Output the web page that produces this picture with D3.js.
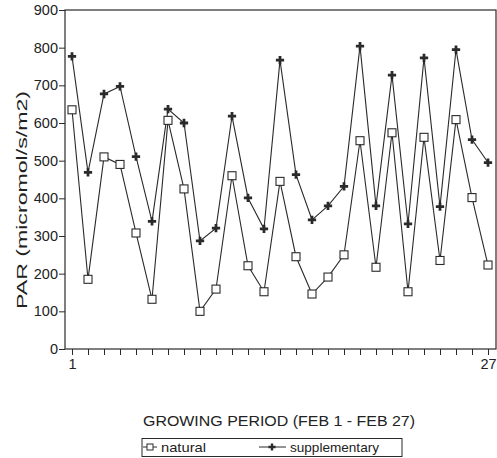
<!DOCTYPE html>
<html>
<head>
<meta charset="utf-8">
<script src="https://cdn.jsdelivr.net/npm/d3@7"></script>
<style>
  body { margin: 0; background: #fff; }
  text { font-family: "Liberation Sans", Arial, sans-serif; fill: #222; }
</style>
</head>
<body>
<div id="chart"></div>
<script>
var width = 497;
var height = 458;

// data
var days = d3.range(1, 28);
var natural = [635, 185, 510, 490, 308, 132, 607, 425, 100, 159, 460, 221, 152, 445,
  245, 146, 191, 250, 553, 217, 574, 152, 562, 235, 609, 402, 223];
var supplementary = [777, 469, 677, 697, 511, 339, 637, 600, 287, 321, 618, 401, 319, 767,
  463, 343, 380, 432, 804, 380, 727, 332, 773, 378, 795, 556, 495];
var yTicks = [0, 100, 200, 300, 400, 500, 600, 700, 800, 900];
var xLabels = [1, 27];

var plotLeft = 65, plotRight = 496, plotTop = 10, plotBottom = 349;

var svg = d3.select("#chart")
  .append("svg")
  .attr("width", width)
  .attr("height", height);

var x = d3.scaleLinear().domain([1, 27]).range([72, 488]);
var y = d3.scaleLinear().domain([0, 900]).range([plotBottom, plotTop]);

var ink = "#2a2a2a";

// frame
svg.append("rect")
  .attr("x", plotLeft).attr("y", plotTop)
  .attr("width", plotRight - plotLeft).attr("height", plotBottom - plotTop)
  .attr("fill", "none").attr("stroke", ink).attr("stroke-width", 1.2);

// y axis
var yAxis = svg.append("g")
  .attr("transform", "translate(" + plotLeft + ",0)")
  .call(d3.axisLeft(y).tickValues(yTicks).tickSize(6).tickPadding(1));
yAxis.select(".domain").remove();
yAxis.selectAll("line").attr("stroke", ink);
yAxis.selectAll("text").style("font-size", "14.5px").attr("fill", ink);

// x axis
var xAxis = svg.append("g")
  .attr("transform", "translate(0," + plotBottom + ")")
  .call(d3.axisBottom(x).tickValues(days).tickSize(6).tickFormat(function(d) {
    return xLabels.indexOf(d) >= 0 ? d : "";
  }).tickPadding(4));
xAxis.select(".domain").remove();
xAxis.selectAll("line").attr("stroke", ink);
xAxis.selectAll("text").style("font-size", "14.5px").attr("fill", ink);

// axis titles
svg.append("text")
  .attr("x", 279).attr("y", 426)
  .attr("text-anchor", "middle")
  .style("font-size", "15.5px")
  .attr("textLength", 272).attr("lengthAdjust", "spacingAndGlyphs")
  .text("GROWING PERIOD (FEB 1 - FEB 27)");

svg.append("text")
  .attr("transform", "translate(27,200) rotate(-90)")
  .attr("text-anchor", "middle")
  .style("font-size", "15.5px")
  .attr("textLength", 218).attr("lengthAdjust", "spacingAndGlyphs")
  .text("PAR (micromol/s/m2)");

var line = d3.line()
  .x(function(d, i) { return x(days[i]); })
  .y(function(d) { return y(d); });

svg.append("path")
  .datum(supplementary)
  .attr("d", line)
  .attr("fill", "none").attr("stroke", ink).attr("stroke-width", 1.1);

svg.append("path")
  .datum(natural)
  .attr("d", line)
  .attr("fill", "none").attr("stroke", ink).attr("stroke-width", 1.1);

var cross = d3.symbol().type(d3.symbolCross).size(38);

svg.selectAll(".supp")
  .data(supplementary)
  .enter().append("path")
  .attr("class", "supp")
  .attr("d", cross)
  .attr("transform", function(d, i) { return "translate(" + x(days[i]) + "," + y(d) + ")"; })
  .attr("fill", ink);

svg.selectAll(".nat")
  .data(natural)
  .enter().append("rect")
  .attr("class", "nat")
  .attr("x", function(d, i) { return x(days[i]) - 4; })
  .attr("y", function(d) { return y(d) - 4; })
  .attr("width", 8).attr("height", 8)
  .attr("fill", "#fff").attr("stroke", ink).attr("stroke-width", 1.1);

// legend
var legend = svg.append("g");
legend.append("rect")
  .attr("x", 142).attr("y", 438.5)
  .attr("width", 260).attr("height", 18)
  .attr("fill", "none").attr("stroke", ink).attr("stroke-width", 1);

legend.append("line")
  .attr("x1", 143).attr("x2", 157).attr("y1", 447).attr("y2", 447)
  .attr("stroke", ink);
legend.append("rect")
  .attr("x", 147).attr("y", 444).attr("width", 6).attr("height", 6)
  .attr("fill", "#fff").attr("stroke", ink);
legend.append("text")
  .attr("x", 161).attr("y", 451.5)
  .style("font-size", "13.5px")
  .attr("textLength", 45).attr("lengthAdjust", "spacingAndGlyphs")
  .text("natural");

legend.append("line")
  .attr("x1", 259).attr("x2", 286).attr("y1", 447).attr("y2", 447)
  .attr("stroke", ink);
legend.append("path")
  .attr("d", d3.symbol().type(d3.symbolCross).size(28))
  .attr("transform", "translate(272,447)")
  .attr("fill", ink);
legend.append("text")
  .attr("x", 290).attr("y", 451.5)
  .style("font-size", "13.5px")
  .attr("textLength", 89).attr("lengthAdjust", "spacingAndGlyphs")
  .text("supplementary");
</script>
</body>
</html>
